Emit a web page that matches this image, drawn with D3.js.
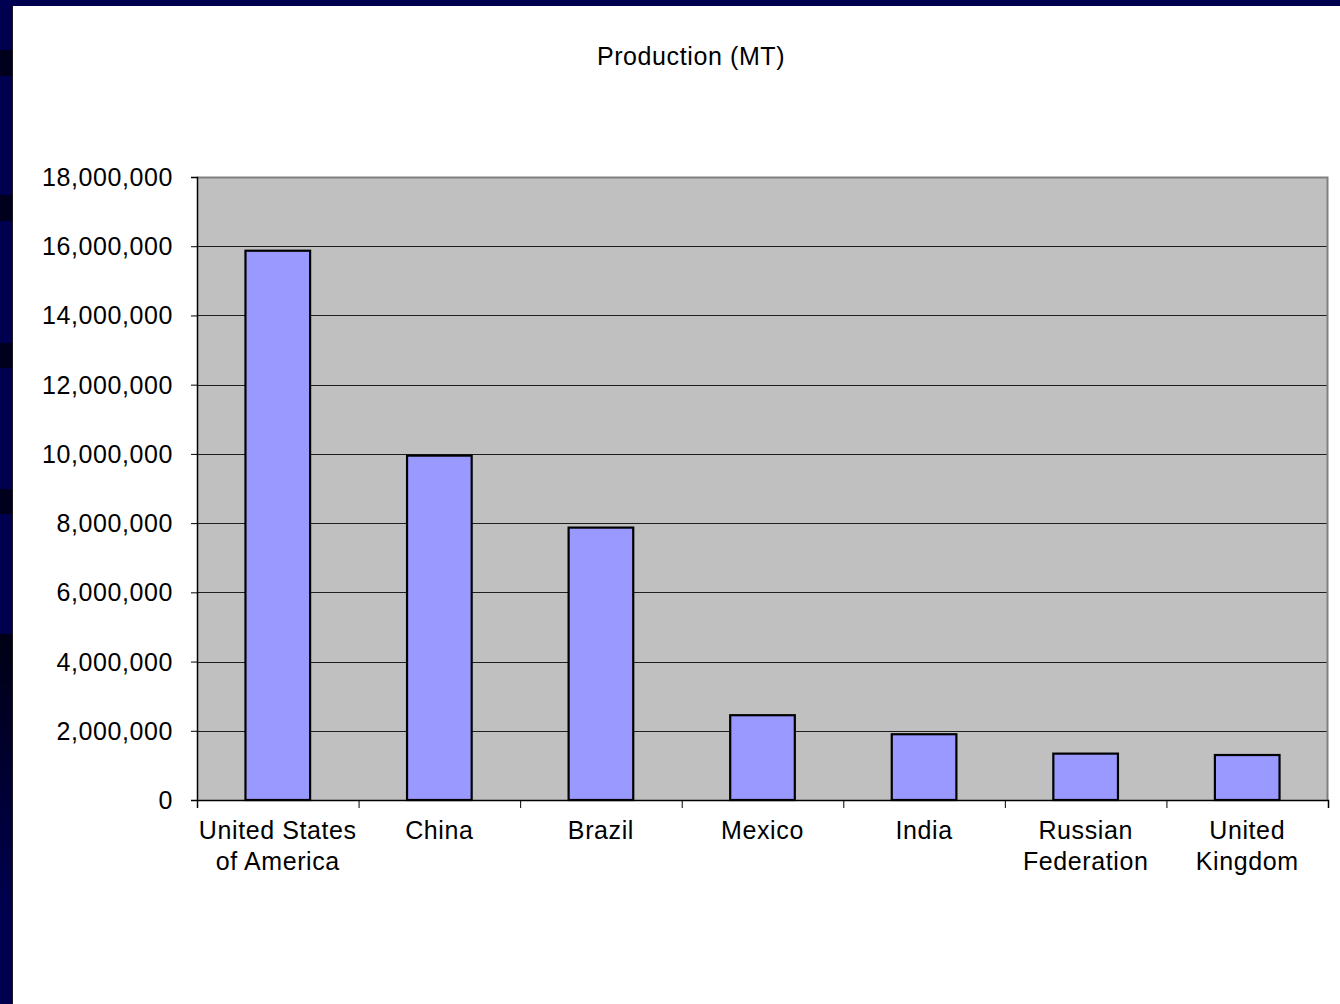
<!DOCTYPE html>
<html>
<head>
<meta charset="utf-8">
<script src="https://cdn.jsdelivr.net/npm/d3@7"></script>
<style>
  html, body { margin: 0; padding: 0; background: #ffffff; }
  svg { display: block; }
  text { font-family: "Liberation Sans", Arial, sans-serif; fill: #000; }
</style>
</head>
<body>
<script>
// Production in metric tonnes by country
const categories = [
  "United States\nof America",
  "China",
  "Brazil",
  "Mexico",
  "India",
  "Russian\nFederation",
  "United\nKingdom"
];
const production = [15870000, 9950000, 7870000, 2450000, 1900000, 1340000, 1300000];
const yTicks = [0, 2000000, 4000000, 6000000, 8000000, 10000000, 12000000, 14000000, 16000000, 18000000];
const chartTitle = "Production (MT)";

const W = 1340, H = 1004;
const plot = { left: 197, right: 1328, top: 177, bottom: 800 };
const FONT_SIZE = 25, SPACING = "0.6px";

const svg = d3.select("body").append("svg")
  .attr("width", W).attr("height", H);

// slide frame: navy strip across the top and down the left edge
const frame = svg.append("g");
frame.append("rect").attr("x", 0).attr("y", 0).attr("width", W).attr("height", 6).attr("fill", "#000050");
frame.append("rect").attr("x", 0).attr("y", 0).attr("width", 13).attr("height", H).attr("fill", "#000050");
const defs = svg.append("defs");
const grad = defs.append("linearGradient").attr("id", "stripFade")
  .attr("x1", 0).attr("y1", 0).attr("x2", 0).attr("y2", 1);
grad.append("stop").attr("offset", "0%").attr("stop-color", "#000014");
grad.append("stop").attr("offset", "100%").attr("stop-color", "#000050");
[[50, 26], [195, 26], [343, 25], [489, 25]].forEach(([y, h]) => {
  frame.append("rect").attr("x", 0).attr("y", y).attr("width", 13).attr("height", h).attr("fill", "#00001c");
});
frame.append("rect").attr("x", 0).attr("y", 634).attr("width", 13).attr("height", 280).attr("fill", "url(#stripFade)");
frame.append("rect").attr("x", 12).attr("y", 6).attr("width", 1).attr("height", H - 6).attr("fill", "#1a1a1a");

// scales
const y = d3.scaleLinear().domain([0, 18000000]).range([plot.bottom, plot.top]);
const x = d3.scaleBand().domain(categories).range([plot.left, plot.right])
  .paddingInner(0.6).paddingOuter(0.3);
const slots = d3.scaleLinear().domain([0, categories.length]).range([plot.left, plot.right]);

// plot area
svg.append("rect")
  .attr("x", plot.left).attr("y", plot.top)
  .attr("width", plot.right - plot.left).attr("height", plot.bottom - plot.top)
  .attr("fill", "#c0c0c0");

// gridlines
svg.append("g").selectAll("line").data(yTicks.filter(v => v > 0 && v < 18000000)).join("line")
  .attr("x1", plot.left).attr("x2", plot.right)
  .attr("y1", d => Math.round(y(d)) + 0.5).attr("y2", d => Math.round(y(d)) + 0.5)
  .attr("stroke", "#1e1e1e").attr("stroke-width", 1);

// plot border (top and right)
svg.append("path")
  .attr("d", `M${plot.left},${plot.top + 0.5}H${plot.right - 0.5}V${plot.bottom}`)
  .attr("fill", "none").attr("stroke", "#808080").attr("stroke-width", 2);

// bars
svg.append("g").selectAll("rect").data(production).join("rect")
  .attr("x", (d, i) => x(categories[i]))
  .attr("y", d => y(d))
  .attr("width", x.bandwidth())
  .attr("height", d => y(0) - y(d))
  .attr("fill", "#9999ff")
  .attr("stroke", "#000").attr("stroke-width", 2.2);

// y axis
const yAxis = svg.append("g")
  .attr("transform", `translate(${plot.left},0)`)
  .call(d3.axisLeft(y).tickValues(yTicks).tickSize(6).tickPadding(18)
    .tickFormat(d3.format(",")));
yAxis.select(".domain").attr("stroke", "#000").attr("stroke-width", 1.5);
yAxis.selectAll(".tick line").attr("stroke", "#000");
yAxis.selectAll(".tick text")
  .attr("font-size", FONT_SIZE).attr("letter-spacing", SPACING)
  .attr("font-family", "'Liberation Sans', Arial, sans-serif").attr("fill", "#000")
  .attr("dy", "0.34em");

// x axis: ticks at category boundaries
const xAxis = svg.append("g")
  .attr("transform", `translate(0,${plot.bottom})`)
  .call(d3.axisBottom(slots).tickValues(d3.range(categories.length + 1)).tickSize(8).tickFormat(""));
xAxis.select(".domain").attr("stroke", "#000").attr("stroke-width", 1.5);
xAxis.selectAll(".tick line").attr("stroke", "#000");

// category labels
const labels = svg.append("g").selectAll("text").data(categories).join("text")
  .attr("x", d => x(d) + x.bandwidth() / 2)
  .attr("y", 839)
  .attr("text-anchor", "middle")
  .attr("font-size", FONT_SIZE).attr("letter-spacing", SPACING);
labels.each(function(d) {
  const t = d3.select(this);
  d.split("\n").forEach((line, i) => {
    t.append("tspan").attr("x", x(d) + x.bandwidth() / 2).attr("dy", i === 0 ? 0 : 31).text(line);
  });
});

// title
svg.append("text")
  .attr("x", 691).attr("y", 65)
  .attr("text-anchor", "middle")
  .attr("font-size", FONT_SIZE).attr("letter-spacing", SPACING)
  .text(chartTitle);
</script>
</body>
</html>
